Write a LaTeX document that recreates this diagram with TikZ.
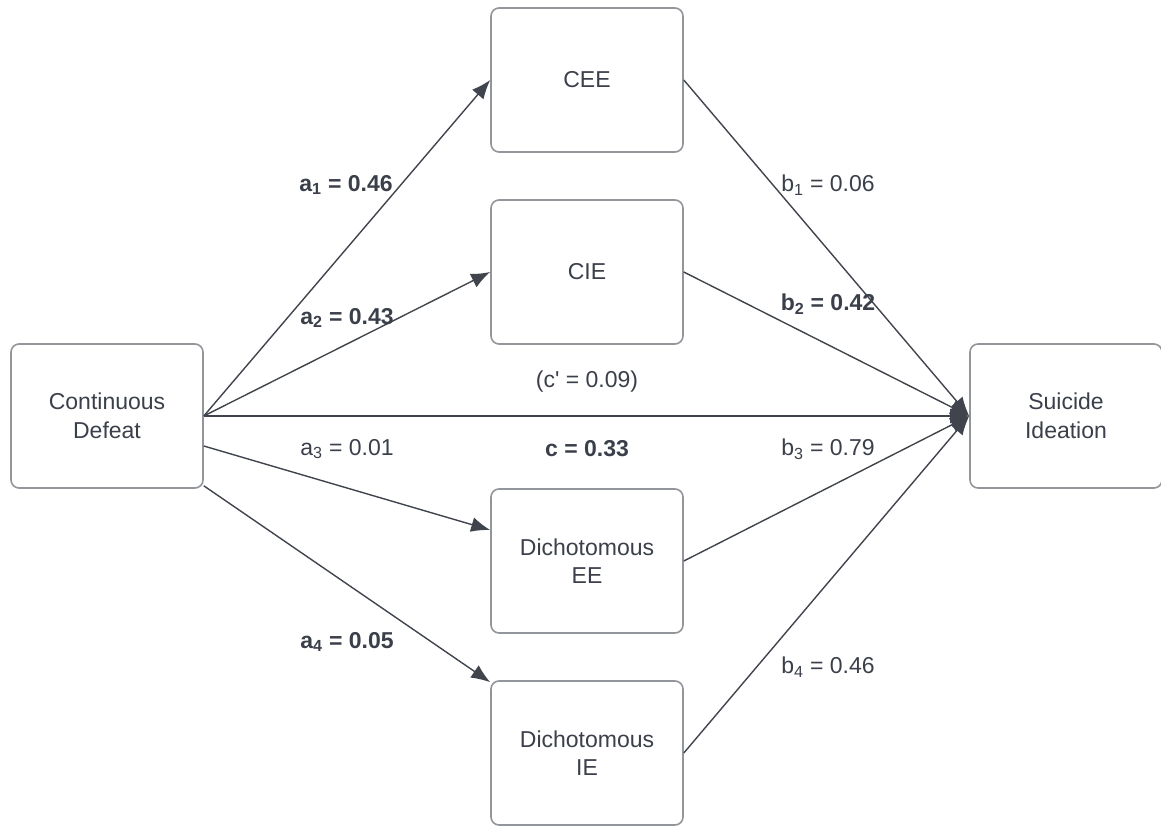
\documentclass[tikz,border=0pt]{standalone}
\usepackage{fontspec}
\setmainfont{Liberation Sans}
\usepackage{xcolor}
\usepackage{tikz}
\usetikzlibrary{arrows.meta, positioning}
\definecolor{textgray}{RGB}{58,63,74}
\definecolor{edgegray}{RGB}{146,149,154}
\definecolor{linegray}{RGB}{64,68,76}

\begin{document}
\begin{tikzpicture}[x=1pt, y=-1pt, font=\fontsize{23}{28.5}\selectfont, text=textgray,
  box/.style={draw=edgegray, line width=1.6pt, rounded corners=8pt, minimum width=192pt, minimum height=144pt, inner sep=0pt, align=center},
  lbl/.style={inner sep=0pt},
  arr/.style={-{Latex[length=19pt, width=15pt]}, draw=linegray, line width=1.4pt}]
  \useasboundingbox (0,0) rectangle (1161,826);
  \node[box] (defeat)   at (107,416)    {Continuous\\Defeat};
  \node[box] (cee)      at (587,80)     {CEE};
  \node[box] (cie)      at (587,272)    {CIE};
  \node[box] (dee)      at (587,561)    {Dichotomous\\EE};
  \node[box] (die)      at (587,753)    {Dichotomous\\IE};
  \node[box] (ideation) at (1066,416)   {Suicide\\Ideation};
  % a paths
  \draw[arr] (defeat.east) -- (cee.west);
  \draw[arr] (defeat.east) -- (cie.west);
  \draw[arr] ([yshift=-30pt]defeat.east) -- ([yshift=31pt]dee.west);
  \draw[arr] ([yshift=3pt]defeat.south east) -- ([yshift=-2pt]die.north west);
  % direct path
  \draw[arr] (defeat.east) -- (ideation.west);
  % b paths
  \draw[arr] (cee.east) -- (ideation.west);
  \draw[arr] (cie.east) -- (ideation.west);
  \draw[arr] (dee.east) -- (ideation.west);
  \draw[arr] (die.east) -- (ideation.west);
  % coefficients
  \node[lbl] (a1) at (346,185) {\textbf{a\textsubscript{1} = 0.46}};
  \node[lbl] (a2) at (347,318) {\textbf{a\textsubscript{2} = 0.43}};
  \node[lbl] (a3) at (347,449) {a\textsubscript{3} = 0.01};
  \node[lbl] (a4) at (347,642) {\textbf{a\textsubscript{4} = 0.05}};
  \node[lbl] (b1) at (828,185) {b\textsubscript{1} = 0.06};
  \node[lbl] (b2) at (828,304) {\textbf{b\textsubscript{2} = 0.42}};
  \node[lbl] (b3) at (828,449) {b\textsubscript{3} = 0.79};
  \node[lbl] (b4) at (828,667) {b\textsubscript{4} = 0.46};
  \node[lbl] (cprime) at (587,382) {(c\textquotesingle{} = 0.09)};
  \node[lbl] (ctotal) at (587,449) {\textbf{c = 0.33}};
\end{tikzpicture}
\end{document}
